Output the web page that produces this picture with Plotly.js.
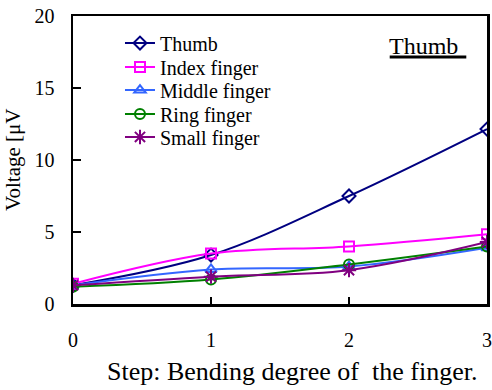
<!DOCTYPE html>
<html>
<head>
<meta charset="utf-8">
<script src="https://cdn.plot.ly/plotly-3.0.1.min.js"></script>
<style>html,body{margin:0;padding:0;background:#fff;}#chart{width:492px;height:390px;}</style>
</head>
<body>
<div id="chart"></div>
<script>
const steps = [0, 1, 2, 3];
const seriesNames = ["Thumb", "Index finger", "Middle finger", "Ring finger", "Small finger"];
const thumb = [1.3, 3.4, 7.5, 12.15];
const indexFinger = [1.4, 3.5, 4.0, 4.85];
const middleFinger = [1.3, 2.4, 2.6, 3.9];
const ringFinger = [1.2, 1.7, 2.75, 4.0];
const smallFinger = [1.3, 1.9, 2.35, 4.3];
const xTicks = [0, 1, 2, 3];
const yTicks = [0, 5, 10, 15, 20];

const colors = ["#000080", "#FF00FF", "#3366FF", "#008000", "#800080"];
const symbols = ["diamond-open", "square-open", "triangle-up-open", "circle-open", "asterisk-open"];
const values = [thumb, indexFinger, middleFinger, ringFinger, smallFinger];
const legendIds = ["legend", "legend2", "legend3", "legend4", "legend5"];
const legendRowsY = [0.906, 0.823, 0.743, 0.660, 0.580];

const traces = values.map((v, i) => ({
  x: steps, y: v, name: seriesNames[i], type: "scatter", mode: "lines+markers",
  legend: legendIds[i],
  line: {color: colors[i], width: 2, shape: "spline", smoothing: 1},
  marker: {symbol: symbols[i], size: i === 4 ? 12 : 10, color: colors[i], line: {width: 2, color: colors[i]}}
}));

const serif = "'Liberation Serif', 'Times New Roman', serif";
const layout = {
  width: 492, height: 390,
  margin: {l: 73, r: 5, t: 16, b: 86},
  paper_bgcolor: "#fff", plot_bgcolor: "#fff",
  font: {family: serif, color: "#000", size: 20},
  showlegend: true,
  xaxis: {range: [0, 3], tickvals: xTicks, ticks: "inside", ticklen: 7, tickwidth: 2, tickcolor: "#000",
          showline: true, linecolor: "#000", linewidth: 2.5, mirror: true, showgrid: false, zeroline: false,
          ticklabelstandoff: 16, tickfont: {family: serif, size: 20}},
  yaxis: {range: [0, 20], tickvals: yTicks, ticks: "inside", ticklen: 8, tickwidth: 2, tickcolor: "#000",
          showline: true, linecolor: "#000", linewidth: 2.5, mirror: true, showgrid: false, zeroline: false,
          ticklabelstandoff: 12, tickfont: {family: serif, size: 20}},
  annotations: [
    {text: "Thumb", xref: "paper", yref: "paper", x: 0.935, y: 0.896,
     xanchor: "right", yanchor: "middle", showarrow: false, font: {family: serif, size: 24, color: "#000"}},
    {text: "Step: Bending degree of  the finger.", xref: "paper", yref: "paper", x: 0.529, y: -0.236,
     xanchor: "center", yanchor: "middle", showarrow: false, font: {family: serif, size: 26, color: "#000"}},
    {text: "Voltage [μV", xref: "paper", yref: "paper", x: -0.145, y: 0.5,
     xanchor: "center", yanchor: "middle", textangle: -90, showarrow: false, font: {family: serif, size: 21, color: "#000"}}
  ],
  shapes: [
    {type: "line", xref: "paper", yref: "paper", x0: 0.765, x1: 0.95, y0: 0.858, y1: 0.858, line: {color: "#000", width: 3}}
  ]
};
legendIds.forEach((id, i) => {
  layout[id] = {x: 0.1135, y: legendRowsY[i], xanchor: "left", yanchor: "middle", bgcolor: "rgba(0,0,0,0)",
                borderwidth: 0, font: {family: serif, size: 20, color: "#000"}};
});

Plotly.newPlot("chart", traces, layout, {displayModeBar: false, staticPlot: true});
</script>
</body>
</html>
